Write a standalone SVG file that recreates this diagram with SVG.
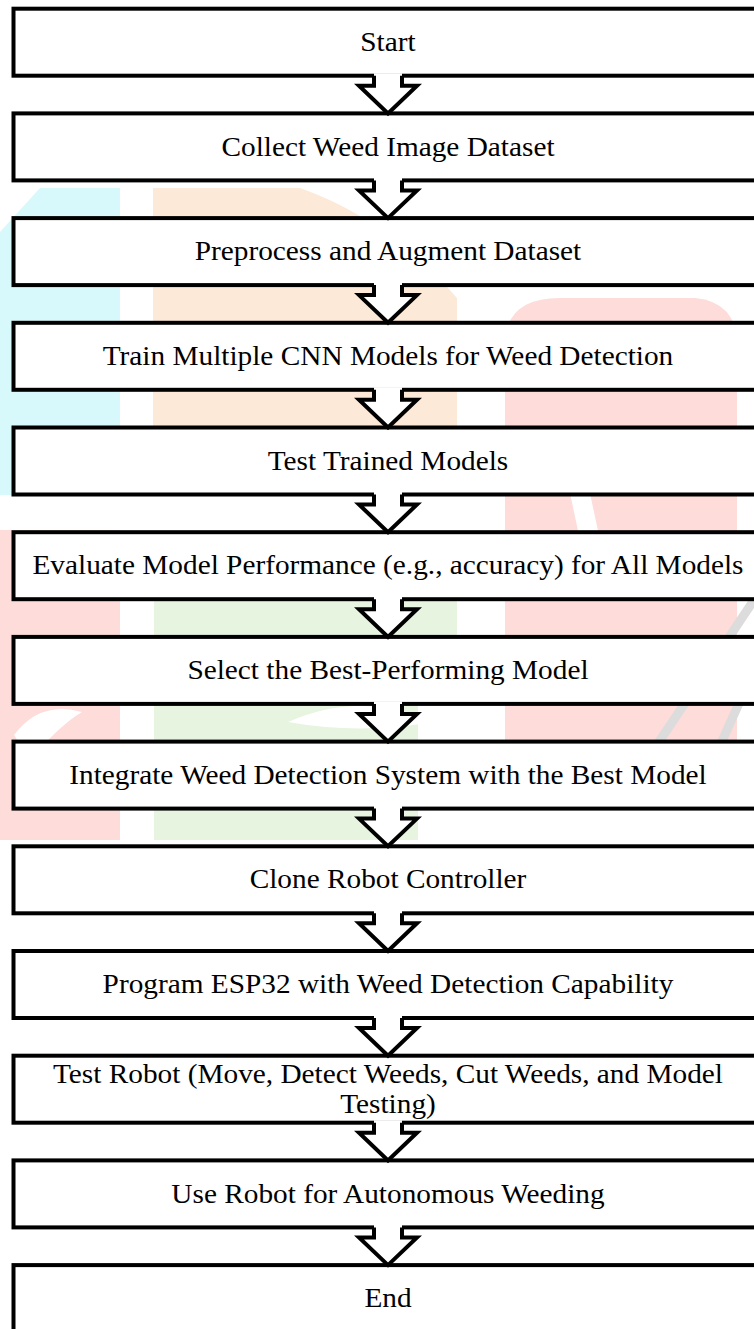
<svg xmlns="http://www.w3.org/2000/svg" width="754" height="1329" viewBox="0 0 754 1329">
<style>
.box{fill:#fff;stroke:#000;stroke-width:4}
.af{fill:#fff;stroke:none}
.as{fill:none;stroke:#000;stroke-width:4;stroke-linejoin:miter}
.t{font-family:"Liberation Serif","Times New Roman",serif;font-size:27.5px;fill:#000;text-anchor:middle}
.wm-c{fill:#d7f9fc}
.wm-o{fill:#fde9d8}
.wm-r{fill:#fddcd9}
.wm-g{fill:#e7f4df}
.wm-w{fill:#fff}
.wm-k{fill:none;stroke:#dcdcdc;stroke-width:9}
</style>
<rect width="754" height="1329" fill="#fff"/>
<g id="watermark">
<path class="wm-c" d="M40,188H120V495H0V232Z"/>
<path class="wm-o" d="M153,188H300Q390,220 457,298V426H153Z"/>
<path class="wm-r" d="M505,340Q508,298 560,298H695Q737,302 737,345V745H505Z"/>
<path class="wm-w" d="M565,470L585,470L600,540L580,540Z"/>
<path class="wm-r" d="M0,530H120V840H0Z"/>
<path class="wm-w" d="M14,735Q40,700 82,712Q60,725 30,760Z"/>
<path class="wm-g" d="M154,601H457V640H418V840H154Z"/>
<path class="wm-w" d="M288,722Q360,690 433,722Q360,735 288,722Z"/>
<path class="wm-r" d="M510,700H577V722H510Z"/>
<path class="wm-k" d="M754,600L620,800M745,690L700,790"/>
</g>
<g id="nodes">
<g id="n0"><rect class="box" x="13.5" y="8.7" width="749" height="67"/></g>
<g id="n1"><rect class="box" x="13.5" y="113.4" width="749" height="67"/></g>
<g id="n2"><rect class="box" x="13.5" y="218.1" width="749" height="67"/></g>
<g id="n3"><rect class="box" x="13.5" y="322.8" width="749" height="67"/></g>
<g id="n4"><rect class="box" x="13.5" y="427.5" width="749" height="67"/></g>
<g id="n5"><rect class="box" x="13.5" y="532.2" width="749" height="67"/></g>
<g id="n6"><rect class="box" x="13.5" y="636.9" width="749" height="67"/></g>
<g id="n7"><rect class="box" x="13.5" y="741.6" width="749" height="67"/></g>
<g id="n8"><rect class="box" x="13.5" y="846.3" width="749" height="67"/></g>
<g id="n9"><rect class="box" x="13.5" y="951" width="749" height="67"/></g>
<g id="n10"><rect class="box" x="13.5" y="1055.7" width="749" height="67"/></g>
<g id="n11"><rect class="box" x="13.5" y="1160.4" width="749" height="67"/></g>
<g id="n12"><rect class="box" x="13.5" y="1265.1" width="749" height="80"/></g>
</g>
<g id="connectors">
<g id="a0" transform="translate(0,75.7)"><polygon class="af" points="374,-2.5 374,10 359,10 388,34.7 417,10 402,10 402,-2.5"/><path class="as" d="M374,0V10H359L388,37.7L417,10H402V0"/></g>
<g id="a1" transform="translate(0,180.4)"><polygon class="af" points="374,-2.5 374,10 359,10 388,34.7 417,10 402,10 402,-2.5"/><path class="as" d="M374,0V10H359L388,37.7L417,10H402V0"/></g>
<g id="a2" transform="translate(0,285.1)"><polygon class="af" points="374,-2.5 374,10 359,10 388,34.7 417,10 402,10 402,-2.5"/><path class="as" d="M374,0V10H359L388,37.7L417,10H402V0"/></g>
<g id="a3" transform="translate(0,389.8)"><polygon class="af" points="374,-2.5 374,10 359,10 388,34.7 417,10 402,10 402,-2.5"/><path class="as" d="M374,0V10H359L388,37.7L417,10H402V0"/></g>
<g id="a4" transform="translate(0,494.5)"><polygon class="af" points="374,-2.5 374,10 359,10 388,34.7 417,10 402,10 402,-2.5"/><path class="as" d="M374,0V10H359L388,37.7L417,10H402V0"/></g>
<g id="a5" transform="translate(0,599.2)"><polygon class="af" points="374,-2.5 374,10 359,10 388,34.7 417,10 402,10 402,-2.5"/><path class="as" d="M374,0V10H359L388,37.7L417,10H402V0"/></g>
<g id="a6" transform="translate(0,703.9)"><polygon class="af" points="374,-2.5 374,10 359,10 388,34.7 417,10 402,10 402,-2.5"/><path class="as" d="M374,0V10H359L388,37.7L417,10H402V0"/></g>
<g id="a7" transform="translate(0,808.6)"><polygon class="af" points="374,-2.5 374,10 359,10 388,34.7 417,10 402,10 402,-2.5"/><path class="as" d="M374,0V10H359L388,37.7L417,10H402V0"/></g>
<g id="a8" transform="translate(0,913.3)"><polygon class="af" points="374,-2.5 374,10 359,10 388,34.7 417,10 402,10 402,-2.5"/><path class="as" d="M374,0V10H359L388,37.7L417,10H402V0"/></g>
<g id="a9" transform="translate(0,1018)"><polygon class="af" points="374,-2.5 374,10 359,10 388,34.7 417,10 402,10 402,-2.5"/><path class="as" d="M374,0V10H359L388,37.7L417,10H402V0"/></g>
<g id="a10" transform="translate(0,1122.7)"><polygon class="af" points="374,-2.5 374,10 359,10 388,34.7 417,10 402,10 402,-2.5"/><path class="as" d="M374,0V10H359L388,37.7L417,10H402V0"/></g>
<g id="a11" transform="translate(0,1227.4)"><polygon class="af" points="374,-2.5 374,10 359,10 388,34.7 417,10 402,10 402,-2.5"/><path class="as" d="M374,0V10H359L388,37.7L417,10H402V0"/></g>
</g>
<g id="labels" transform="matrix(1.066,0,0,1,-25.61,0)">
<text class="t" x="388" y="50.9">Start</text>
<text class="t" x="388" y="155.6">Collect Weed Image Dataset</text>
<text class="t" x="388" y="260.3">Preprocess and Augment Dataset</text>
<text class="t" x="388" y="365">Train Multiple CNN Models for Weed Detection</text>
<text class="t" x="388" y="469.7">Test Trained Models</text>
<text class="t" x="388" y="574.4">Evaluate Model Performance (e.g., accuracy) for All Models</text>
<text class="t" x="388" y="679.1">Select the Best-Performing Model</text>
<text class="t" x="388" y="783.8">Integrate Weed Detection System with the Best Model</text>
<text class="t" x="388" y="888.5">Clone Robot Controller</text>
<text class="t" x="388" y="993.2">Program ESP32 with Weed Detection Capability</text>
<text class="t" x="388" y="1083.4">Test Robot (Move, Detect Weeds, Cut Weeds, and Model</text>
<text class="t" x="388" y="1113.4">Testing)</text>
<text class="t" x="388" y="1202.6">Use Robot for Autonomous Weeding</text>
<text class="t" x="388" y="1307.3">End</text>
</g>
</svg>
